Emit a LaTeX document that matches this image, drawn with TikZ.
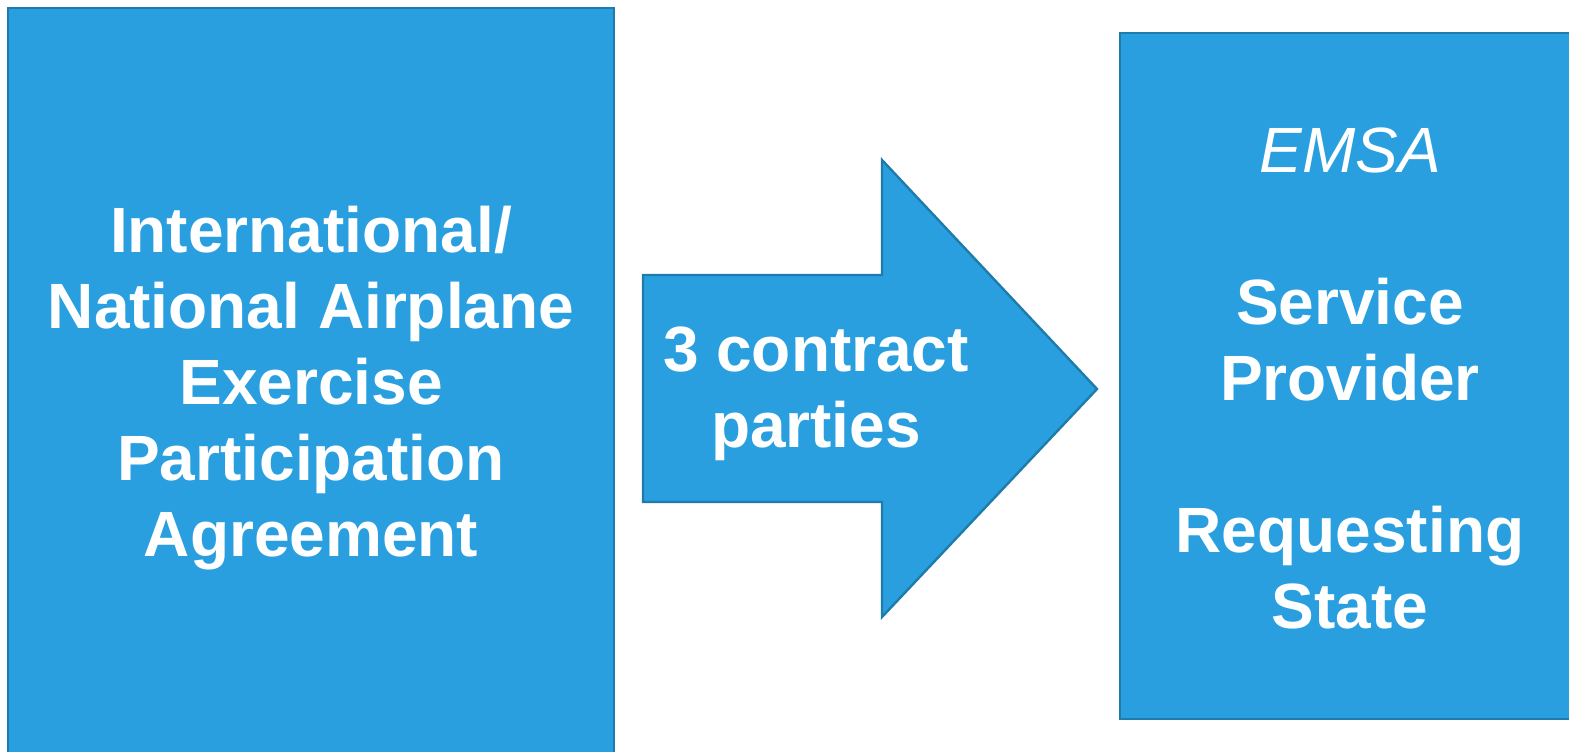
\documentclass[tikz,border=0pt]{standalone}
\usepackage{fontspec}
\setmainfont{Liberation Sans}
\usepackage{tikz}
\definecolor{boxblue}{RGB}{42,159,224}
\definecolor{edgeblue}{RGB}{30,124,172}
\tikzset{
	panel/.style={fill=boxblue, draw=edgeblue, line width=1.2pt},
	label/.style={text=white, align=center, font=\bfseries\fontsize{32}{38}\selectfont}
}

\begin{document}
\begin{tikzpicture}[x=0.5pt, y=-0.5pt]
			%%%%% START %%%%%
			
			\useasboundingbox (0, 0) rectangle (1569, 751);
			\clip (0, 0) rectangle (1569, 751);
			
			\draw[panel] (8, 8) rectangle (614, 780);
			\node[label] (agreement) at (311, 388) {International/\\National Airplane\\Exercise\\Participation\\Agreement};
			
			\draw[panel] (643, 275) -- (882, 275) -- (882, 160) -- (1097, 389) -- (882, 617) -- (882, 502) -- (643, 502) -- cycle;
			\node[label] (parties) at (816, 394) {3 contract\\parties};
			
			\draw[panel] (1120, 33) rectangle (1590, 719);
			\node[label] (roles) at (1350, 378) {{\mdseries\itshape EMSA}\\\mbox{}\\Service\\Provider\\\mbox{}\\Requesting\\State};
			
			%%%%% END %%%%%
\end{tikzpicture}
\end{document}
